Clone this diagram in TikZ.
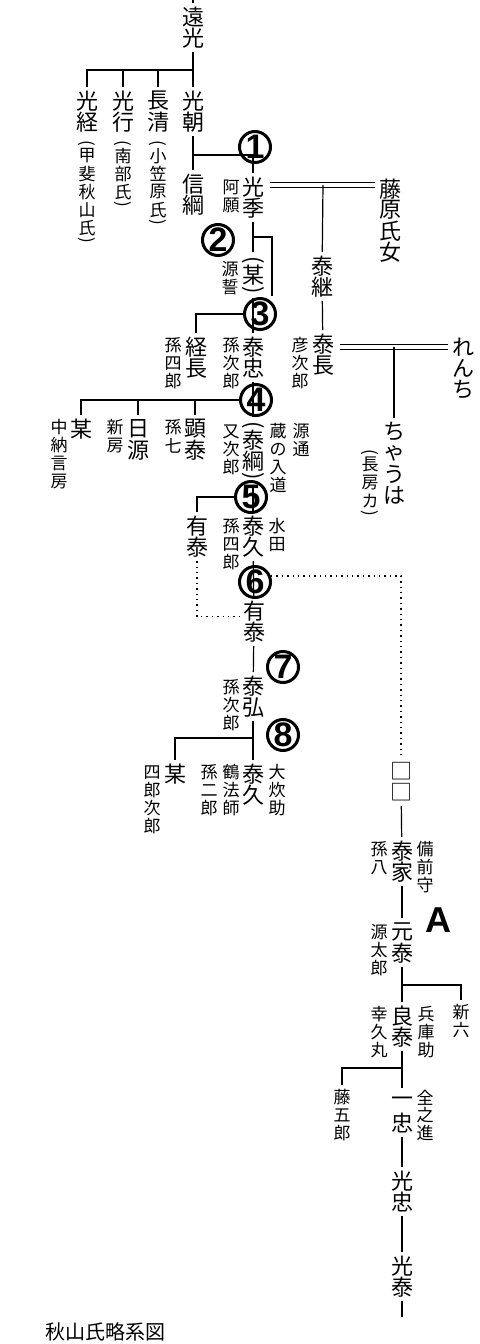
\documentclass[tikz,border=0pt]{standalone}
\usepackage{fontspec}
\usepackage{tikz}
\usetikzlibrary{positioning,calc}
\newfontfamily\jp{Noto Sans CJK JP}
\newfontfamily\numfont{Liberation Sans}
\newcommand{\tatepitch}{1em}
\newcommand{\jpname}{\jp\fontsize{11}{12}\selectfont\def\tatepitch{10.6pt}}
\newcommand{\jpnote}{\jp\fontsize{8.5}{9}\selectfont\def\tatepitch{9pt}}
% vertical writing: one character per cell, parentheses turned and in short cells
\ExplSyntaxOn
\cs_new_protected:Npn \__tate_cell:nn #1#2
  {
    \hbox_to_wd:nn { 1em }
      { \hss \vbox_to_ht:nn {#2} { \vss \hbox:n {#1} \vss } \hss }
  }
\NewDocumentCommand \tate { m }
  {
    \vbox:n
      {
        \offinterlineskip
        \tl_map_inline:nn {#1}
          {
            \str_case:nnF {##1}
              {
                { ( } { \__tate_cell:nn { \rotatebox{-90}{(} } { 0.42em } }
                { ) } { \__tate_cell:nn { \rotatebox{-90}{)} } { 0.42em } }
              }
              { \__tate_cell:nn {##1} { \tatepitch } }
          }
      }
  }
\ExplSyntaxOff
\tikzset{NAME/.style={font=\jpname, inner xsep=0.5pt, inner ysep=1.5pt, anchor=north}}
\tikzset{NOTE/.style={font=\jpnote, inner xsep=0.5pt, inner ysep=1.5pt, anchor=north}}
\tikzset{NUM/.style={circle, draw, line width=1.5pt, minimum size=15.5pt, inner sep=0pt, font={\numfont\bfseries\fontsize{17}{17}\selectfont}}}
\tikzset{LINE/.style={line width=0.6pt}}
\tikzset{MARRIAGE/.style={line width=0.5pt, double, double distance=1.6pt, shorten <=2.5pt, shorten >=1.5pt}}
\tikzset{DOTTED/.style={line width=0.7pt, dotted}}

\begin{document}
\begin{tikzpicture}[x=0.5pt, y=-0.5pt]
\useasboundingbox (0,0) rectangle (480,1344);

% first generations
\node[NAME] (n_tomitsu) at (193,3) {\tate{遠光}};
\node[NAME] (n_mitsutsune) at (87,87) {\tate{光経}};
\node[NAME] (n_mitsuyuki) at (123,87) {\tate{光行}};
\node[NAME] (n_nagakiyo) at (158,87) {\tate{長清}};
\node[NAME] (n_mitsutomo) at (193,87) {\tate{光朝}};
\node[NOTE, below=0pt of n_mitsutsune] (n_note_kai) {\tate{(甲斐秋山氏)}};
\node[NOTE, below=0pt of n_mitsuyuki] (n_note_nanbu) {\tate{(南部氏)}};
\node[NOTE, below=0pt of n_nagakiyo] (n_note_ogasawara) {\tate{(小笠原氏)}};
\node[NAME] (n_nobutsuna) at (193,170) {\tate{信綱}};

\coordinate (c_tomitsu_top) at (193,0);
\coordinate (c_tomitsu_bar) at (193,70);
\draw[LINE] (c_tomitsu_top) -- (n_tomitsu);
\draw[LINE] (n_tomitsu) -- (n_mitsutomo);
\foreach \n in {n_mitsutsune,n_mitsuyuki,n_nagakiyo}
  \draw[LINE] (\n) |- (c_tomitsu_bar);
\draw[LINE] (n_mitsutomo) -- (n_nobutsuna);

\node[NAME] (n_mitsusue) at (253,173) {\tate{光季}};
\node[NOTE] (n_note_agan) at (231,175) {\tate{阿願}};
\node[NAME] (n_fujiwara) at (390,175) {\tate{藤原氏女}};
\node[NUM] (n_num1) at (255,147) {1};

\coordinate (c_mitsutomo_br) at (193,155);
\draw[LINE] (c_mitsutomo_br) -| (n_mitsusue);
\coordinate (c_marriage1) at (323,185);
\draw[MARRIAGE] (n_mitsusue.east |- c_marriage1) -- (n_fujiwara.west |- c_marriage1);

\node[NAME] (n_bou_a) at (253,252) {\tate{(某)}};
\node[NOTE] (n_note_gensei) at (230,257) {\tate{源誓}};
\node[NUM] (n_num2) at (218,240) {2};
\node[NAME] (n_yasutsugu) at (322,252) {\tate{泰継}};

\coordinate (c_mitsusue_br) at (253,237);
\coordinate (c_num3_in) at (272,296);
\draw[LINE] (n_mitsusue) -- (n_bou_a);
\draw[LINE] (c_mitsusue_br) -| (c_num3_in);
\draw[LINE] (c_marriage1) -- (n_yasutsugu);

% generation of 3
\node[NUM] (n_num3) at (260,314) {3};
\node[NAME] (n_tsunenaga) at (196,333) {\tate{経長}};
\node[NOTE] (n_note_magoshiro) at (173,333) {\tate{孫四郎}};
\node[NAME] (n_yasutada) at (253,333) {\tate{泰忠}};
\node[NOTE] (n_note_magojiro) at (231,333) {\tate{孫次郎}};
\node[NAME] (n_yasunaga) at (323,330) {\tate{泰長}};
\node[NOTE] (n_note_hikojiro) at (300,333) {\tate{彦次郎}};
\node[NAME] (n_renchi) at (463,333) {\tate{れんち}};
\node[NAME] (n_chauha) at (394,418) {\tate{ちゃうは}};
\node[NOTE] (n_note_nagafusa) at (370,445) {\tate{(長房カ)}};

\draw[LINE] (n_bou_a) -- (n_yasutada);
\draw[LINE] (n_num3) -| (n_tsunenaga);
\draw[LINE] (n_yasutsugu) -- (n_yasunaga);
\coordinate (c_marriage2) at (394,347);
\draw[MARRIAGE] (n_yasunaga.east |- c_marriage2) -- (n_renchi.west |- c_marriage2);
\draw[LINE] (c_marriage2) -- (n_chauha);

% generation of 4
\node[NUM] (n_num4) at (256,400) {4};
\node[NAME] (n_bou_b) at (81,415) {\tate{某}};
\node[NOTE] (n_note_chunagon) at (59,415) {\tate{中納言房}};
\node[NAME] (n_nichigen) at (138,415) {\tate{日源}};
\node[NOTE] (n_note_shinbo) at (115,415) {\tate{新房}};
\node[NAME] (n_akiyasu) at (195,415) {\tate{顕泰}};
\node[NOTE] (n_note_magoshichi) at (173,415) {\tate{孫七}};
\node[NAME] (n_yasutsuna) at (253,417) {\tate{(泰綱)}};
\node[NOTE] (n_note_matajiro) at (231,419) {\tate{又次郎}};
\node[NOTE] (n_note_kura) at (278,419) {\tate{蔵の入道}};
\node[NOTE] (n_note_gentsu) at (301,419) {\tate{源通}};

\draw[LINE] (n_yasutada) -- (n_yasutsuna);
\draw[LINE] (n_num4) -| (n_bou_b);
\draw[LINE] (n_nichigen) |- (n_num4);
\draw[LINE] (n_akiyasu) |- (n_num4);

% generations of 5 and 6
\node[NUM] (n_num5) at (251,497) {5};
\node[NAME] (n_ariyasu_a) at (197,512) {\tate{有泰}};
\node[NAME] (n_yasuhisa_a) at (253,512) {\tate{泰久}};
\node[NOTE] (n_note_magoshiro_b) at (231,514) {\tate{孫四郎}};
\node[NOTE] (n_note_mizuta) at (277,514) {\tate{水田}};
\node[NUM] (n_num6) at (255,582) {6};
\node[NAME] (n_ariyasu_b) at (254,597) {\tate{有泰}};

\draw[LINE] (n_yasutsuna) -- (n_yasuhisa_a);
\draw[LINE] (n_num5) -| (n_ariyasu_a);
\draw[LINE] (n_yasuhisa_a) -- (n_ariyasu_b);
\draw[DOTTED] (n_ariyasu_a) |- ([yshift=2.5pt]n_ariyasu_b.west);

% generations of 7 and 8
\node[NUM] (n_num7) at (283,667) {7};
\node[NAME] (n_yasuhiro) at (253,672) {\tate{泰弘}};
\node[NOTE] (n_note_magojiro_b) at (231,675) {\tate{孫次郎}};
\node[NUM] (n_num8) at (283,735) {8};
\node[NAME] (n_bou_c) at (175,760) {\tate{某}};
\node[NOTE] (n_note_shirojiro) at (152,760) {\tate{四郎次郎}};
\node[NAME] (n_yasuhisa_b) at (253,760) {\tate{泰久}};
\node[NOTE] (n_note_tsuruhoshi) at (231,760) {\tate{鶴法師}};
\node[NOTE] (n_note_magojiro_c) at (209,760) {\tate{孫二郎}};
\node[NOTE] (n_note_oinosuke) at (277,760) {\tate{大炊助}};

\draw[LINE] (n_ariyasu_b) -- (n_yasuhiro);
\draw[LINE] (n_yasuhiro) -- (n_yasuhisa_b);
\coordinate (c_yasuhiro_br) at (253,738);
\draw[LINE] (c_yasuhiro_br) -| (n_bou_c);

% branch A
\node[NAME] (n_kaku) at (401,757) {\tate{□□}};
\draw[DOTTED] (n_num6.20) -| (n_kaku);
\node[NAME] (n_yasuie) at (402,837) {\tate{泰家}};
\node[NOTE] (n_note_magohachi) at (379,837) {\tate{孫八}};
\node[NOTE] (n_note_bizen) at (425,837) {\tate{備前守}};
\node[font={\numfont\bfseries\fontsize{18}{18}\selectfont}, inner sep=0pt] (n_label_a) at (438,920) {A};
\node[NAME] (n_motoyasu) at (402,918) {\tate{元泰}};
\node[NOTE] (n_note_gentaro) at (379,920) {\tate{源太郎}};
\node[NOTE] (n_shinroku) at (461,1000) {\tate{新六}};
\node[NAME] (n_yoshiyasu) at (402,1002) {\tate{良泰}};
\node[NOTE] (n_note_sachihisa) at (379,1002) {\tate{幸久丸}};
\node[NOTE] (n_note_hyogo) at (426,1002) {\tate{兵庫助}};
\node[NOTE] (n_fujigoro) at (342,1085) {\tate{藤五郎}};
\node[NAME] (n_kazutada) at (402,1088) {\tate{一忠}};
\node[NOTE] (n_note_zennoshin) at (425,1085) {\tate{全之進}};
\node[NAME] (n_mitsutada) at (402,1167) {\tate{光忠}};
\node[NAME] (n_mitsuyasu) at (402,1252) {\tate{光泰}};

\draw[LINE] (n_kaku) -- (n_yasuie);
\draw[LINE] (n_yasuie) -- (n_motoyasu);
\draw[LINE] (n_motoyasu) -- (n_yoshiyasu);
\coordinate (c_motoyasu_br) at (402,985);
\draw[LINE] (c_motoyasu_br) -| (n_shinroku);
\draw[LINE] (n_yoshiyasu) -- (n_kazutada);
\coordinate (c_yoshiyasu_br) at (402,1068);
\draw[LINE] (c_yoshiyasu_br) -| (n_fujigoro);
\draw[LINE] (n_kazutada) -- (n_mitsutada);
\draw[LINE] (n_mitsutada) -- (n_mitsuyasu);
\coordinate (c_mitsuyasu_end) at (402,1317);
\draw[LINE] (n_mitsuyasu) -- (c_mitsuyasu_end);

\node[font={\jp\fontsize{10}{11}\selectfont}, anchor=north west, inner sep=0pt] (n_caption) at (45,1322) {秋山氏略系図};

\end{tikzpicture}
\end{document}
